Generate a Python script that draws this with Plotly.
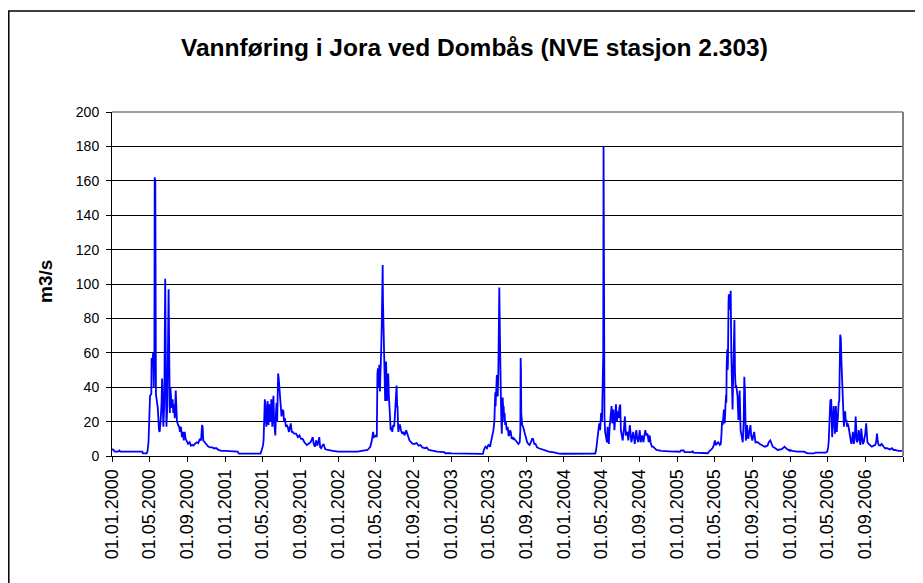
import plotly.graph_objects as go

# ---- Daily discharge (m3/s), key dates per year ----
days_2000 = ["01-01","01-06","01-10","01-20","01-25","01-28","04-08","04-10","04-22","04-25","04-28","04-30",
             "05-03","05-07","05-08","05-11","05-13","05-15","05-17","05-18","05-20","05-22","05-25","05-28",
             "06-01","06-03","06-06","06-09","06-11","06-13","06-15","06-18","06-21","06-23","06-25","06-28",
             "06-30","07-02","07-04","07-06","07-08","07-10","07-12","07-15","07-17","07-19","07-22","07-25",
             "07-27","07-29","08-02","08-05","08-08","08-11","08-14","08-17","08-20","08-23","08-26","08-30",
             "09-03","09-08","09-12","09-16","09-20","09-25","10-01","10-06","10-11","10-15","10-18","10-20",
             "10-22","10-26","11-01","11-07","11-13","11-20","11-25","12-04","12-10","12-20","12-31"]
flow_2000 = [4,3.5,2.5,2.5,3.2,2.5,2.5,1.5,1.5,3,8,19,
             35,36,57,55,60,40,58,162,160,36,30,28,
             15,14,20,30,45,25,17,30,103,55,17,30,
             55,97,60,25,40,33,28,33,25,30,22,38,
             22,20,18,17,14,17,11,14,9,14,10,8,
             7,8,6,6.5,6,7,8,7.5,10,9,18,17,
             9,8,7,5.5,5,5,4.5,4.5,3.5,3,3]

days_2001 = ["01-01","01-10","02-10","02-14","04-25","04-29","05-03","05-05","05-07","05-09","05-10","05-12",
             "05-14","05-16","05-18","05-19","05-21","05-23","05-25","05-27","05-30","06-01","06-02","06-04",
             "06-06","06-08","06-10","06-12","06-14","06-16","06-18","06-19","06-21","06-23","06-25","06-27",
             "06-30","07-02","07-05","07-08","07-10","07-13","07-16","07-19","07-22","07-26","08-01","08-04",
             "08-07","08-12","08-18","08-24","08-29","09-03","09-08","09-14","09-22","09-28","10-04","10-11",
             "10-14","10-18","10-22","10-26","11-01","11-04","11-07","11-11","11-15","11-20","11-28","12-15","12-31"]
flow_2001 = [3,2.8,2.6,1.4,1.4,3.5,6,9,21,33,31,22,
             17,28,32,20,18,30,29,20,33,25,17,30,
             35,20,16,12,25,31,20,46,48,45,40,36,
             30,23,27,26,20,22,17,18,17,14,19,14,
             14,13,13,11,12,10,10,8,6.4,7,8,11,
             7,5.4,9,6,11,5,4.5,6,7,4,3.5,3,2.5]

days_2002 = ["01-01","03-05","03-20","04-06","04-15","04-20","04-24","04-27","05-04","05-06","05-08","05-10",
             "05-12","05-14","05-16","05-18","05-20","05-22","05-23","05-25","05-26","05-28","05-30","05-31",
             "06-02","06-04","06-05","06-07","06-08","06-10","06-12","06-14","06-16","06-18","06-20","06-23",
             "06-25","06-28","07-01","07-03","07-05","07-07","07-09","07-11","07-12","07-14","07-15","07-17",
             "07-20","07-23","07-27","07-31","08-04","08-09","08-13","08-16","08-20","08-25","08-30","09-05",
             "09-12","09-18","09-24","09-30","10-10","10-14","10-21","11-05","11-17","12-10","12-14","12-31"]
flow_2002 = [2.5,2.5,3,3.5,5.4,9,14,11,12,11,48,51,
             40,53,37.5,45,60,76,111,111,90,75,60,53,
             32,45,55,40,32,40,48,35,26,20,15,17,
             14,18,17,22,29,35,41,28,29,16,14,18,
             18,15,13,14,12,15,12,11,9,8,7,7,
             7.5,6,6.4,5,4.5,5,3.5,3,2.5,2.2,1.6,1.6]

days_2003 = ["01-01","04-14","04-17","04-22","04-24","04-27","04-30","05-03","05-07","05-10","05-12","05-15",
             "05-18","05-21","05-23","05-24","05-25","05-27","05-29","05-31","06-01","06-03","06-05","06-06",
             "06-08","06-10","06-12","06-14","06-15","06-17","06-19","06-20","06-22","06-23","06-25","06-27",
             "06-30","07-03","07-06","07-08","07-11","07-13","07-16","07-19","07-22","07-24","07-29","08-02",
             "08-07","08-11","08-13","08-14","08-15","08-16","08-19","08-22","08-25","08-30","09-04","09-08",
             "09-12","09-16","09-20","09-23","09-27","10-01","10-06","10-12","10-20","10-28","11-13","12-04",
             "12-15","12-31"]
flow_2003 = [1.5,1.2,3.5,5.4,5,4.5,6,6.4,5.4,8,9,12,
             15,20,32,37,29,44,47,40,34.6,50,90,98,
             70,38,25,13,20,34,25,29,20,25,18,20,
             15,17,12,12,15,14,10,11,9.5,10,9,8,
             7,8,15,57,50,25,18,17,15,11,8,7,
             6.4,8,10,10,7,7,5,4.5,4,3.5,2.5,2,
             1.4,1.3]

days_2004 = ["01-01","04-11","04-14","04-17","04-20","04-24","04-27","04-30","05-03","05-05","05-07","05-08",
             "05-09","05-10","05-11","05-13","05-16","05-19","05-21","05-23","05-25","05-28","05-31","06-03",
             "06-05","06-06","06-08","06-09","06-11","06-12","06-15","06-17","06-19","06-20","06-23","06-26",
             "06-28","07-01","07-03","07-06","07-09","07-13","07-16","07-19","07-22","07-24","07-27","07-30",
             "08-01","08-04","08-06","08-09","08-12","08-15","08-17","08-20","08-22","08-25","08-28","08-31",
             "09-02","09-05","09-08","09-10","09-12","09-14","09-17","09-20","09-23","09-27","10-01","10-04",
             "10-07","10-11","10-15","10-26","11-11","11-25","12-02","12-20","12-31"]
flow_2004 = [1.3,1.4,3.5,8,12,19,15,25,20,40,60,180,
             90,26,23,14,11,8,17,12,7,18,26,29,
             20,19,24,27,20,15,22,30,24,20,26,22,
             28,30,15,12,9,16,23,12,13,14,9,14,
             18,12,8,11,14,10,7,12,15,10,8,12,
             15,8,11,12,10,8,12,15,12,13,8,12,
             8,5.4,5.4,3.5,3,2.8,2.5,2.5,2.7]

days_2005 = ["01-01","01-10","01-13","01-22","01-25","02-18","02-20","02-23","03-20","03-24","04-10","04-14",
             "04-25","04-29","05-03","05-05","05-07","05-10","05-14","05-19","05-22","05-24","05-26","05-28",
             "05-30","06-01","06-03","06-04","06-06","06-08","06-09","06-10","06-12","06-13","06-14","06-16",
             "06-17","06-19","06-21","06-23","06-25","06-27","06-29","07-01","07-02","07-05","07-07","07-09",
             "07-11","07-13","07-15","07-18","07-20","07-22","07-25","07-27","07-29","08-01","08-04","08-06",
             "08-08","08-09","08-11","08-13","08-15","08-17","08-19","08-22","08-26","08-28","09-01","09-04",
             "09-07","09-11","09-18","09-25","10-03","10-11","10-20","10-24","10-29","11-02","11-06","11-14",
             "11-22","12-05","12-14","12-22","12-31"]
flow_2005 = [2.6,2.5,3.2,3.2,2.2,2.2,3,2,2,1.6,1.6,2.5,
             4.5,6,9,7,6.4,7.5,8,6.4,7,12,20,18,
             21,27,19,20,29,35.5,31,53,62,50,53,90,
             94,85,96,96,60,36.5,27,45,58,79,48,40,
             41,38,35,21,30,38,15,13,11,8,20,46,
             38,20,9,12,18,12,10,14,18,12,9,12,
             14,8,8,7,6,5.4,6,8,9,7,5.4,4.5,
             3.5,4,5.4,4,3]

days_2006 = ["01-01","01-08","01-24","02-15","02-26","03-19","03-24","04-26","05-01","05-04","05-06","05-09",
             "05-11","05-14","05-16","05-17","05-19","05-22","05-24","05-26","05-28","05-29","05-31","06-01",
             "06-03","06-04","06-07","06-09","06-12","06-14","06-16","06-18","06-20","06-22","06-24","06-26",
             "06-28","06-30","07-02","07-04","07-06","07-09","07-12","07-15","07-18","07-21","07-23","07-26",
             "07-29","08-01","08-03","08-05","08-08","08-11","08-14","08-16","08-19","08-21","08-24","08-27",
             "08-30","09-01","09-04","09-06","09-08","09-12","09-17","09-22","09-28","10-03","10-06","10-09",
             "10-11","10-14","10-19","10-24","10-30","11-04","11-10","11-15","11-20","11-26","12-02","12-07",
             "12-17","12-28","12-31"]
flow_2006 = [3.5,3,2.5,2.5,1.5,1.5,2,2,2.5,5,9,25,
             32,33,20,11,18,29,20,13,25,29,20,14,
             21,21,31,32,70.5,68.5,55,45,45,30.6,17,22,
             26,20,21,17,19,17,14,11,7,10,14,7,
             10,23,12,8,9,15,10,6.4,16,10,7,8,
             10,13,19,12,8,7,6,5.4,6,6.4,8,13,
             9,6.4,6,7,5.5,4.5,4.5,4,3.8,4.5,3.5,3.5,
             3,3,3]

tick_dates = ["2000-01-01","2000-05-01","2000-09-01","2001-01-01","2001-05-01","2001-09-01",
              "2002-01-01","2002-05-01","2002-09-01","2003-01-01","2003-05-01","2003-09-01",
              "2004-01-01","2004-05-01","2004-09-01","2005-01-01","2005-05-01","2005-09-01",
              "2006-01-01","2006-05-01","2006-09-01","2007-01-01"]
tick_labels = ["01.01.2000","01.05.2000","01.09.2000","01.01.2001","01.05.2001","01.09.2001",
               "01.01.2002","01.05.2002","01.09.2002","01.01.2003","01.05.2003","01.09.2003",
               "01.01.2004","01.05.2004","01.09.2004","01.01.2005","01.05.2005","01.09.2005",
               "01.01.2006","01.05.2006","01.09.2006",""]
y_ticks = [0, 20, 40, 60, 80, 100, 120, 140, 160, 180, 200]

title_text = "Vannføring i Jora ved Dombås (NVE stasjon 2.303)"
y_title = "m3/s"

# ---- assemble series ----
years = [(2000, days_2000, flow_2000), (2001, days_2001, flow_2001), (2002, days_2002, flow_2002),
         (2003, days_2003, flow_2003), (2004, days_2004, flow_2004), (2005, days_2005, flow_2005),
         (2006, days_2006, flow_2006)]
dates, flow = [], []
for yr, dd, ff in years:
    dates += [f"{yr}-{d}" for d in dd]
    flow += ff

FONT = "Liberation Sans, Arial, sans-serif"
OFF = 8  # page body margin of the browser
W, H = 915, 575
ML, MR, MT, MB = 104, 20, 104, 127
PW, PH = W - ML - MR, H - MT - MB

def px(x):  # screen pixel -> paper x
    return (x - OFF - ML) / PW

def py(y):  # screen pixel -> paper y
    return (H - MB - (y - OFF)) / PH

fig = go.Figure(go.Scatter(x=dates, y=flow, mode="lines",
                           line=dict(color="#0000FF", width=1.8), hoverinfo="x+y"))

fig.update_layout(
    width=W, height=H,
    margin=dict(l=ML, r=MR, t=MT, b=MB),
    paper_bgcolor="white", plot_bgcolor="white",
    showlegend=False,
    font=dict(family=FONT, color="black"),
    xaxis=dict(type="date", range=["2000-01-01", "2007-01-01"],
               tickmode="array", tickvals=tick_dates, ticktext=tick_labels,
               tickangle=-90, ticks="outside", ticklen=5, tickcolor="black",
               showline=True, linecolor="black", linewidth=1,
               showgrid=False, zeroline=False,
               tickfont=dict(family=FONT, size=18, color="black")),
    yaxis=dict(range=[0, 200], tickmode="array", tickvals=y_ticks,
               ticks="outside", ticklen=5, tickcolor="black",
               showline=True, linecolor="black", linewidth=1,
               showgrid=True, gridcolor="black", gridwidth=1, zeroline=False,
               ticklabelstandoff=4,
               tickfont=dict(family=FONT, size=14, color="black")),
    shapes=[
        dict(type="rect", xref="paper", yref="paper",
             x0=px(8.8), x1=px(921), y0=py(11), y1=py(700),
             line=dict(color="black", width=1.5), layer="below"),
        dict(type="line", xref="paper", yref="paper", x0=0, x1=1, y0=1, y1=1,
             line=dict(color="#808080", width=1.5), layer="above"),
        dict(type="line", xref="paper", yref="paper", x0=1, x1=1, y0=0, y1=1,
             line=dict(color="#808080", width=2), layer="above"),
    ],
    annotations=[
        dict(text=f"<b>{title_text}</b>", xref="paper", yref="paper",
             x=px(474.5), y=py(47), xanchor="center", yanchor="middle",
             showarrow=False, font=dict(family=FONT, size=24.5, color="black")),
        dict(text=f"<b>{y_title}</b>", xref="paper", yref="paper",
             x=px(45), y=py(282), xanchor="center", yanchor="middle", textangle=-90,
             showarrow=False, font=dict(family=FONT, size=19, color="black")),
    ],
)

fig.write_html("out.html")
